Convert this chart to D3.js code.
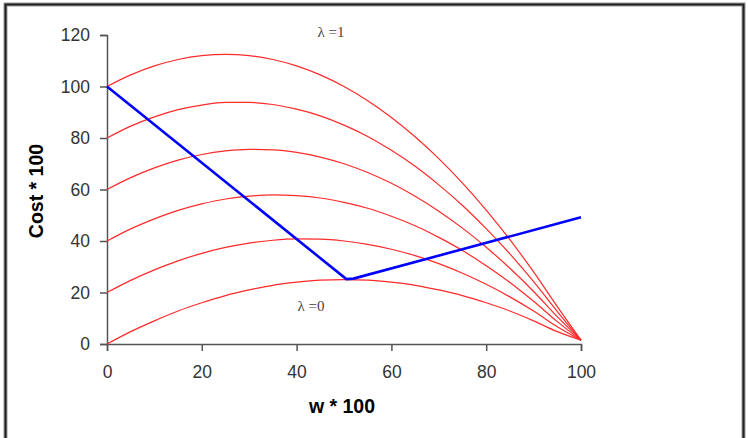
<!DOCTYPE html>
<html>
<head>
<meta charset="utf-8">
<script src="https://cdn.jsdelivr.net/npm/d3@7"></script>
<style>
  body { margin: 0; background: #fff; }
  text { font-family: "Liberation Sans", Arial, sans-serif; }
</style>
</head>
<body>
<div class="cost_chart"></div>
<script>
// D3 script - cost curves
const my_WIDTH = 748
const my_HEIGHT = 438
const SVG_MARGIN = {top: 35, right: 167, bottom: 94, left: 107};

// w * 100 sample points
const w_values = [0, 5, 10, 15, 20, 25, 30, 35, 40, 45, 50, 55, 60, 65, 70, 75, 80, 85, 90, 95, 100];

// red curves, lambda = 0 ... 1 (cost * 100)
const lambda_0 = [0, 4.8, 9, 12.8, 16, 18.8, 21, 22.8, 24, 24.8, 25, 24.8, 24, 22.8, 21, 18.8, 16, 12.8, 9, 4.8, 1.5];
const lambda_02 = [20, 24.7, 28.8, 32.3, 35.2, 37.5, 39.2, 40.3, 40.8, 40.7, 40, 38.7, 36.8, 34.3, 31.2, 27.5, 23.2, 18.3, 12.8, 6.7, 1.5];
const lambda_04 = [40, 44.7, 48.6, 51.9, 54.4, 56.3, 57.4, 57.9, 57.6, 56.7, 55, 52.7, 49.6, 45.9, 41.4, 36.3, 30.4, 23.9, 16.6, 8.7, 1.5];
const lambda_06 = [60, 64.6, 68.4, 71.4, 73.6, 75, 75.6, 75.4, 74.4, 72.6, 70, 66.6, 62.4, 57.4, 51.6, 45, 37.6, 29.4, 20.4, 10.6, 1.5];
const lambda_08 = [80, 84.6, 88.2, 91, 92.8, 93.8, 93.8, 93, 91.2, 88.6, 85, 80.6, 75.2, 69, 61.8, 53.8, 44.8, 35, 24.2, 12.6, 1.5];
const lambda_1 = [100, 104.5, 108, 110.5, 112, 112.5, 112, 110.5, 108, 104.5, 100, 94.5, 88, 80.5, 72, 62.5, 52, 40.5, 28, 14.5, 1.5];
const red_curves = [lambda_0, lambda_02, lambda_04, lambda_06, lambda_08, lambda_1];

// blue line (w, cost)
const blue_w = [0, 50.5, 52, 100];
const blue_cost = [100, 25.2, 25.4, 49.2];

const x_ticks = [0, 20, 40, 60, 80, 100];
const y_ticks = [0, 20, 40, 60, 80, 100, 120];

const svg = d3.select(".cost_chart")
    .append("svg")
    .attr("width", my_WIDTH)
    .attr("height", my_HEIGHT)

// outer frame (no bottom edge)
svg.append("path")
    .attr("d", "M5.5,440 V4.5 H743.5 V440")
    .attr("fill", "none")
    .attr("stroke", "#999")
    .attr("stroke-width", 4);
svg.append("path")
    .attr("d", "M5.5,440 V4.5 H743.5 V440")
    .attr("fill", "none")
    .attr("stroke", "#222")
    .attr("stroke-width", 2);

const xScale = d3.scaleLinear()
    .domain([0, 100])
    .range([SVG_MARGIN.left, my_WIDTH - SVG_MARGIN.right]);

const yScale = d3.scaleLinear()
    .domain([0, 120])
    .range([my_HEIGHT - SVG_MARGIN.bottom, SVG_MARGIN.top]);

const xAxis = d3.axisBottom(xScale).tickValues(x_ticks).tickSize(7).tickPadding(15);
const yAxis = d3.axisLeft(yScale).tickValues(y_ticks).tickSize(7).tickPadding(10);

const x_axis = svg.append("g")
    .attr("class", "x axis")
    .attr("transform", "translate(0, " + yScale(0) + ")")
    .call(xAxis);

const y_axis = svg.append("g")
    .attr("class", "y axis")
    .attr("transform", "translate(" + xScale(0) + ", 0)")
    .call(yAxis);

svg.selectAll(".axis path, .axis line")
    .attr("stroke", "#555")
    .attr("stroke-width", 1.5);
svg.selectAll(".axis text")
    .attr("fill", "#333")
    .style("font-size", "17.5px")
    .style("font-family", "'Liberation Sans', Arial, sans-serif");

// red curves
const line = d3.line()
    .x((d, i) => xScale(w_values[i]))
    .y(d => yScale(d))
    .curve(d3.curveMonotoneX);

svg.selectAll(".red-curve")
    .data(red_curves).enter()
    .append("path")
    .attr("class", "red-curve")
    .attr("d", line)
    .attr("fill", "none")
    .attr("stroke", "#ff2a2a")
    .attr("stroke-width", 1.2);

// blue line
const blue_line = d3.line()
    .x((d, i) => xScale(blue_w[i]))
    .y(d => yScale(d));

svg.append("path")
    .datum(blue_cost)
    .attr("d", blue_line)
    .attr("fill", "none")
    .attr("stroke", "#0000ff")
    .attr("stroke-width", 2.6);

// lambda labels
svg.append("text")
    .text("λ =1")
    .attr("x", xScale(44.4))
    .attr("y", yScale(119.2))
    .style("font-family", "'Liberation Serif', 'Times New Roman', serif")
    .style("font-size", "15px")
    .attr("fill", "#444");

svg.append("text")
    .text("λ =0")
    .attr("x", xScale(40.2))
    .attr("y", yScale(13))
    .style("font-family", "'Liberation Serif', 'Times New Roman', serif")
    .style("font-size", "15px")
    .attr("fill", "#444");

// axis titles
svg.append("text")
    .text("w * 100")
    .style("text-anchor", "middle")
    .style("font-weight", "bold")
    .style("font-size", "19.5px")
    .attr("x", 342)
    .attr("y", 413);

svg.append("text")
    .text("Cost * 100")
    .style("text-anchor", "middle")
    .style("font-weight", "bold")
    .style("font-size", "19.5px")
    .attr("x", -191)
    .attr("y", 43)
    .attr("transform", "rotate(-90)");
</script>
</body>
</html>
